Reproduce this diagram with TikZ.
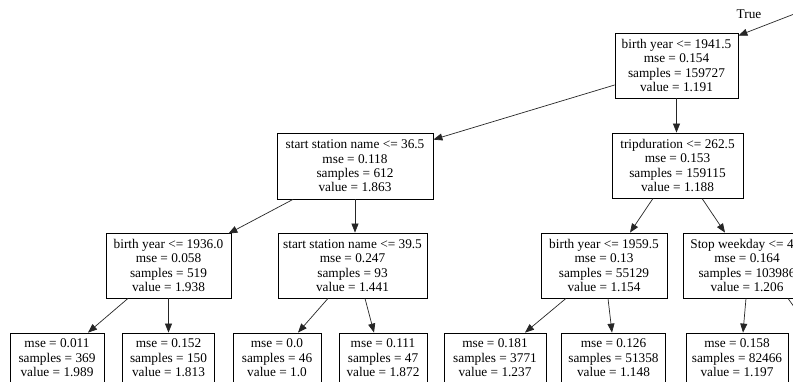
\documentclass[tikz,border=0pt]{standalone}
\usepackage{fontspec}
\setmainfont{Liberation Serif}
\usetikzlibrary{arrows.meta,calc}
\tikzset{
  tree/.style={draw=black, line width=0.8pt, rectangle, align=center, inner sep=0pt,
    font=\fontsize{13.3pt}{14.4pt}\selectfont, minimum height=65pt},
  leafbox/.style={tree, minimum height=50pt},
  edge/.style={draw=black!85, line width=0.7pt, -{Triangle[length=9pt,width=7pt]}},
  lbl/.style={font=\fontsize{13.3pt}{14.4pt}\selectfont, inner sep=0pt}
}
\begin{document}
\begin{tikzpicture}[x=1pt,y=-1pt]
\useasboundingbox (0,0) rectangle (793,381);
\fill[white] (0,0) rectangle (793,381);
\clip (0,0) rectangle (793,381);

% level 0
\node[tree, minimum width=123pt] (root) at (676.5,65.5) {birth year <= 1941.5\\mse = 0.154\\samples = 159727\\value = 1.191};
% level 1
\node[tree, minimum width=156pt, minimum height=66pt] (s365) at (355,166) {start station name <= 36.5\\mse = 0.118\\samples = 612\\value = 1.863};
\node[tree, minimum width=131pt] (trip) at (677.5,165.5) {tripduration <= 262.5\\mse = 0.153\\samples = 159115\\value = 1.188};
% level 2
\node[tree, minimum width=125pt] (b1936) at (168.5,265.5) {birth year <= 1936.0\\mse = 0.058\\samples = 519\\value = 1.938};
\node[tree, minimum width=149pt] (s395) at (352.5,265.5) {start station name <= 39.5\\mse = 0.247\\samples = 93\\value = 1.441};
\node[tree, minimum width=126pt] (b1959) at (604,265.5) {birth year <= 1959.5\\mse = 0.13\\samples = 55129\\value = 1.154};
\node[tree, minimum width=128pt] (stop) at (747,265.5) {Stop weekday <= 4.5\\mse = 0.164\\samples = 103986\\value = 1.206};
% level 3 (leaves)
\node[leafbox, minimum width=94pt] (leaf1) at (57,358) {mse = 0.011\\samples = 369\\value = 1.989};
\node[leafbox, minimum width=92pt] (leaf2) at (168.5,358) {mse = 0.152\\samples = 150\\value = 1.813};
\node[leafbox, minimum width=88pt] (leaf3) at (277,358) {mse = 0.0\\samples = 46\\value = 1.0};
\node[leafbox, minimum width=88pt] (leaf4) at (383,358) {mse = 0.111\\samples = 47\\value = 1.872};
\node[leafbox, minimum width=102pt] (leaf5) at (495,358) {mse = 0.181\\samples = 3771\\value = 1.237};
\node[leafbox, minimum width=104pt] (leaf6) at (613.5,358) {mse = 0.126\\samples = 51358\\value = 1.148};
\node[leafbox, minimum width=102pt] (leaf7) at (737,358) {mse = 0.158\\samples = 82466\\value = 1.197};

% incoming edge and label
\coordinate (tin) at (850,-7.6);
\coordinate (sout) at (830,357);
\node[lbl] (truelbl) at (749,14.5) {True};

\draw[edge] (tin) -- ([yshift=-3pt]root.north east);
\draw[edge] ([yshift=-19.5pt]root.west) -- ([yshift=-7pt]s365.north east);
\draw[edge] (root.south) -- (root.south |- trip.north);
\draw[edge] ([xshift=-62pt]s365.south) -- ([xshift=-3pt,yshift=-1pt]b1936.north east);
\draw[edge] (s365.south) -- (s365.south |- s395.north);
\draw[edge] ([xshift=-40.5pt]b1936.south) -- ([xshift=31pt]leaf1.north);
\draw[edge] (b1936.south) -- (leaf2.north);
\draw[edge] ([xshift=-24.5pt]s395.south) -- ([xshift=21pt]leaf3.north);
\draw[edge] ([xshift=12.5pt]s395.south) -- ([xshift=-9pt]leaf4.north);
\draw[edge] ([xshift=-24.5pt]trip.south) -- ([xshift=26pt]b1959.north);
\draw[edge] ([xshift=24.5pt]trip.south) -- ([xshift=-22pt]stop.north);
\draw[edge] ([xshift=-38pt]b1959.south) -- ([xshift=30pt]leaf5.north);
\draw[edge] ([xshift=4pt]b1959.south) -- ([xshift=-1.5pt]leaf6.north);
\draw[edge] ([xshift=-1pt]stop.south) -- ([xshift=6pt]leaf7.north);
\draw[edge] ([xshift=41pt]stop.south) -- (sout);
\end{tikzpicture}
\end{document}
